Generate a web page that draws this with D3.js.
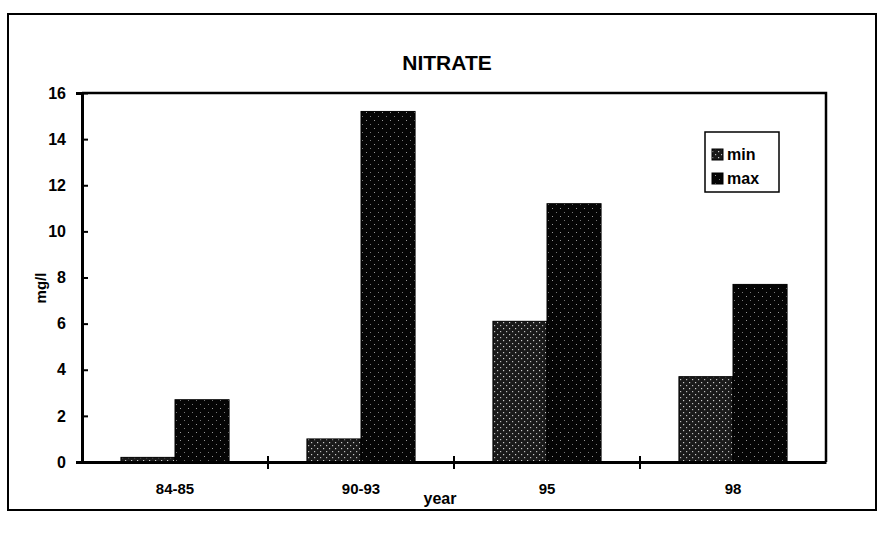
<!DOCTYPE html>
<html>
<head>
<meta charset="utf-8">
<script src="https://cdn.jsdelivr.net/npm/d3@7"></script>
<style>
  body { margin: 0; background: #fff; }
  text { font-family: "Liberation Sans", Arial, sans-serif; font-weight: bold; fill: #000; }
</style>
</head>
<body>
<div id="canvas"></div>
<script>
const years = ["84-85", "90-93", "95", "98"];
const series = ["min", "max"];
const minValues = [0.2, 1.0, 6.1, 3.7];
const maxValues = [2.7, 15.2, 11.2, 7.7];
const yTicks = [0, 2, 4, 6, 8, 10, 12, 14, 16];

const width = 878;
const height = 534;
const margin = { top: 93, left: 82, bottom: 72, right: 52 };
const iwidth = width - margin.left - margin.right;
const iheight = height - margin.top - margin.bottom;

const svg = d3.select("#canvas").append("svg")
  .attr("width", width)
  .attr("height", height);

// dotted fills, like the scanned screen tones
const defs = svg.append("defs");
const pmin = defs.append("pattern").attr("id", "pmin")
  .attr("width", 6).attr("height", 6).attr("patternUnits", "userSpaceOnUse");
pmin.append("rect").attr("width", 6).attr("height", 6).attr("fill", "#1a1a1a");
pmin.append("rect").attr("x", 1).attr("y", 1).attr("width", 1.2).attr("height", 1.2).attr("fill", "#ccc");
pmin.append("rect").attr("x", 4).attr("y", 4).attr("width", 1.2).attr("height", 1.2).attr("fill", "#bbb");
const pmax = defs.append("pattern").attr("id", "pmax")
  .attr("width", 8).attr("height", 8).attr("patternUnits", "userSpaceOnUse");
pmax.append("rect").attr("width", 8).attr("height", 8).attr("fill", "#050505");
pmax.append("rect").attr("x", 2).attr("y", 3).attr("width", 1).attr("height", 1).attr("fill", "#999");
pmax.append("rect").attr("x", 6).attr("y", 7).attr("width", 1).attr("height", 1).attr("fill", "#777");

// outer frame
svg.append("rect")
  .attr("x", 8).attr("y", 14)
  .attr("width", 868).attr("height", 496)
  .attr("fill", "none").attr("stroke", "#000").attr("stroke-width", 2);

svg.append("text")
  .attr("x", 447).attr("y", 70)
  .attr("text-anchor", "middle")
  .style("font-size", "21px")
  .text("NITRATE");

const g = svg.append("g")
  .attr("transform", `translate(${margin.left},${margin.top})`);

const x = d3.scaleBand().domain(years).range([0, iwidth]);
const xs = d3.scaleBand().domain(series).range([0, x.bandwidth()]).paddingOuter(0.72);
const y = d3.scaleLinear().domain([0, 16]).range([iheight, 0]);

// plot frame (top and right)
g.append("path")
  .attr("d", `M0,0H${iwidth}V${iheight}`)
  .attr("fill", "none").attr("stroke", "#000").attr("stroke-width", 2.5);

const rows = years.map((d, i) => ({ year: d, min: minValues[i], max: maxValues[i] }));

const groups = g.selectAll(".grp").data(rows).enter().append("g")
  .attr("class", "grp")
  .attr("transform", (d) => `translate(${x(d.year)},0)`);

groups.selectAll("rect")
  .data((d) => series.map((s) => ({ key: s, value: d[s] })))
  .enter().append("rect")
  .attr("x", (d) => xs(d.key))
  .attr("y", (d) => y(d.value))
  .attr("width", xs.bandwidth())
  .attr("height", (d) => iheight - y(d.value))
  .attr("fill", (d) => `url(#p${d.key})`)
  .attr("stroke", "#000").attr("stroke-width", 1);

// y axis
const yAxis = g.append("g").call(d3.axisLeft(y).tickValues(yTicks).tickSize(6).tickPadding(10));
yAxis.select(".domain").attr("stroke-width", 3);
yAxis.selectAll(".tick line").attr("x2", 6).attr("stroke-width", 2);
yAxis.selectAll(".tick text").style("font-size", "16px");

// x axis
const xAxis = g.append("g")
  .attr("transform", `translate(0,${iheight})`)
  .call(d3.axisBottom(x).tickSize(0).tickPadding(21));
xAxis.select(".domain").attr("stroke-width", 3);
xAxis.selectAll(".tick text").style("font-size", "15px");
xAxis.selectAll(".sep").data(years.slice(1)).enter().append("line")
  .attr("class", "sep")
  .attr("x1", (d) => x(d)).attr("x2", (d) => x(d))
  .attr("y1", -6).attr("y2", 7)
  .attr("stroke", "#000").attr("stroke-width", 2);

svg.append("text")
  .attr("x", 440).attr("y", 504)
  .attr("text-anchor", "middle")
  .style("font-size", "16px")
  .text("year");

svg.append("text")
  .attr("transform", "translate(46,288) rotate(-90)")
  .attr("text-anchor", "middle")
  .style("font-size", "15px")
  .text("mg/l");

// legend
const leg = svg.append("g").attr("transform", "translate(705,132)");
leg.append("rect")
  .attr("width", 74).attr("height", 60)
  .attr("fill", "#fff").attr("stroke", "#000").attr("stroke-width", 1.5);
series.forEach((s, i) => {
  leg.append("rect")
    .attr("x", 7).attr("y", 17 + i * 24)
    .attr("width", 11).attr("height", 11)
    .attr("fill", `url(#p${s})`).attr("stroke", "#000");
  leg.append("text")
    .attr("x", 22).attr("y", 28 + i * 24)
    .style("font-size", "16px")
    .text(s);
});
</script>
</body>
</html>
